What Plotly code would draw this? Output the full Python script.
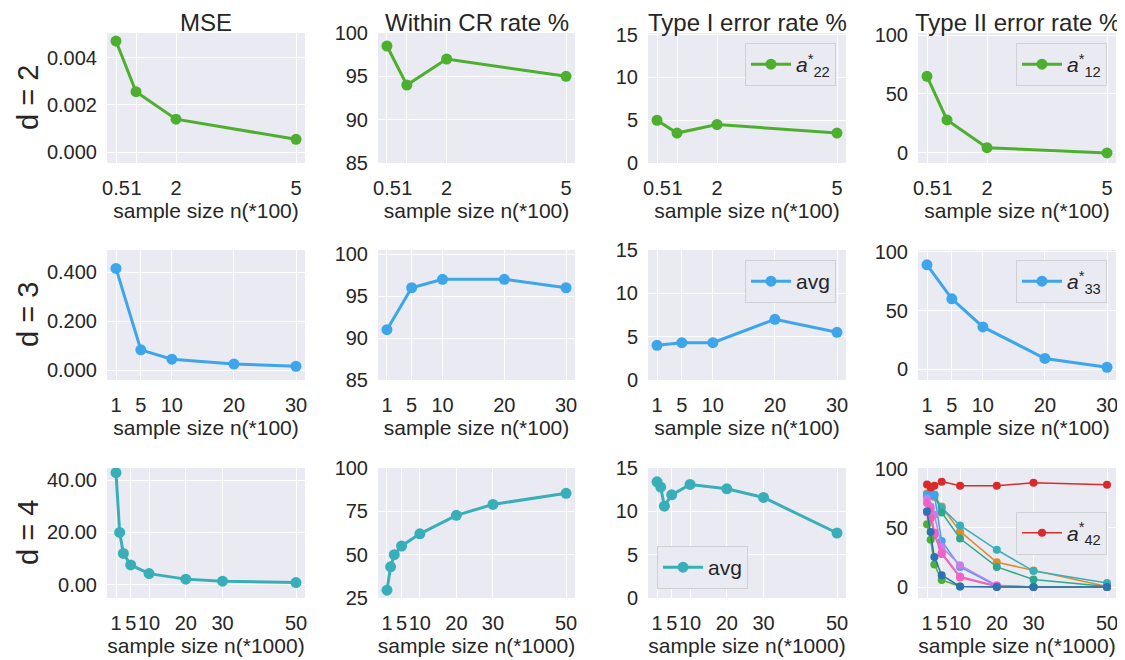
import plotly.graph_objects as go

# ---------------- data ----------------
x_d2 = [0.5, 1, 2, 5]
x_d3 = [1, 5, 10, 20, 30]
x_d4 = [1, 2, 3, 5, 10, 20, 30, 50]
xt_d2 = [0.5, 1, 2, 5]
xt_d2_text = ["0.5", "1", "2", "5"]
xt_d3 = [1, 5, 10, 20, 30]
xt_d4 = [1, 5, 10, 20, 30, 50]

col_titles = ["MSE", "Within CR rate %", "Type I error rate %", "Type II error rate %"]
row_titles = ["d = 2", "d = 3", "d = 4"]
x_titles = ["sample size n(*100)", "sample size n(*100)", "sample size n(*1000)"]

mse_d2 = [0.0047, 0.00256, 0.0014, 0.00055]
cr_d2 = [98.5, 94.0, 97.0, 95.0]
t1_d2 = [5.0, 3.5, 4.5, 3.5]
t2_d2 = [65, 28, 4.5, 0]

mse_d3 = [0.415, 0.083, 0.045, 0.025, 0.016]
cr_d3 = [91, 96, 97, 97, 96]
t1_d3 = [4.0, 4.3, 4.3, 7.0, 5.5]
t2_d3 = [89, 60, 36, 9, 1.5]

mse_d4 = [42.8, 20, 12, 7.6, 4.3, 2.2, 1.4, 0.9]
cr_d4 = [29.5, 43, 50, 55, 62, 72.7, 79, 85.4]
t1_d4 = [13.4, 12.8, 10.6, 11.9, 13.1, 12.6, 11.6, 7.5]

# Type II error per coefficient, d = 4
t2_d4_orange = [79, 79, 76, 68, 47, 21, 14, 0.5]
t2_d4_teal = [78, 78, 78, 67, 52, 31.5, 13.5, 3.5]
t2_d4_greenteal = [78, 78, 78, 63, 41, 17, 6.5, 0.5]
t2_d4_lightblue = [78, 79, 78, 39, 17, 1, 0, 0]
t2_d4_purple = [74.5, 68, 61, 34, 18.5, 1.5, 0, 0]
t2_d4_rose = [63, 58, 44, 28, 8, 0.5, 0, 0]
t2_d4_pink = [71, 66, 46, 29, 9, 1, 0, 0]
t2_d4_green = [53, 40, 19, 6, 0.5, 0, 0, 0]
t2_d4_darkblue = [64, 46.5, 25.5, 10, 0.5, 0, 0, 0]
t2_d4_a42 = [86.5, 84, 85.5, 89, 85.5, 85.5, 88, 86.3]

# ---------------- style ----------------
GREEN = "#4DAF2E"
BLUE = "#3DA5EA"
TEAL = "#38AFB8"
FONT = "Liberation Sans, Arial, sans-serif"
TXT = "#262626"
BG = "#EAEAF2"

# page offset (body margin) compensation
OFF = 8
W, H = 1117, 652

def px(x):
    return (x - OFF) / W

def py(y):
    return 1 - (y - OFF) / H

xdom = [[107, 305], [378, 575], [648, 846], [918, 1116]]
ydom = [[33, 163], [250, 380], [468, 598]]

xranges = [[0.275, 5.225], [-0.45, 31.45], [-1.45, 52.45]]
yranges = [
    [[-0.00045, 0.00504], [85, 100], [0, 15.2], [-8.5, 101.7]],
    [[-0.04, 0.49], [85, 100.5], [0, 15], [-9.4, 101.7]],
    [[-5, 44.6], [25, 100], [0, 15], [-9.2, 100.5]],
]
yticks = [
    [[0, 0.002, 0.004], [85, 90, 95, 100], [0, 5, 10, 15], [0, 50, 100]],
    [[0, 0.2, 0.4], [85, 90, 95, 100], [0, 5, 10, 15], [0, 50, 100]],
    [[0, 20, 40], [25, 50, 75, 100], [0, 5, 10, 15], [0, 50, 100]],
]
yfmt = [[".3f", "", "", ""], [".3f", "", "", ""], [".2f", "", "", ""]]

fig = go.Figure()

def ax_id(r, c):
    n = r * 4 + c + 1
    return ("x" if n == 1 else f"x{n}"), ("y" if n == 1 else f"y{n}")

def add_main(r, c, x, y, color, name=None, legend=None):
    xa, ya = ax_id(r, c)
    fig.add_trace(go.Scatter(
        x=x, y=y, mode="lines+markers", xaxis=xa, yaxis=ya,
        line=dict(color=color, width=3), marker=dict(color=color, size=11),
        name=name or "", showlegend=name is not None,
        legend=legend if legend else "legend",
    ))

rows = [
    (x_d2, [mse_d2, cr_d2, t1_d2, t2_d2], GREEN),
    (x_d3, [mse_d3, cr_d3, t1_d3, t2_d3], BLUE),
]
legend_names = {
    (0, 2): ("<i>a</i><sup>*</sup><sub>22</sub>", "legend"),
    (0, 3): ("<i>a</i><sup>*</sup><sub>12</sub>", "legend2"),
    (1, 2): ("avg", "legend3"),
    (1, 3): ("<i>a</i><sup>*</sup><sub>33</sub>", "legend4"),
    (2, 2): ("avg", "legend5"),
}
for r, (xs, series, colr) in enumerate(rows):
    for c, ys in enumerate(series):
        nm = legend_names.get((r, c))
        add_main(r, c, xs, ys, colr, nm[0] if nm else None, nm[1] if nm else None)

for c, ys in enumerate([mse_d4, cr_d4, t1_d4]):
    nm = legend_names.get((2, c))
    add_main(2, c, x_d4, ys, TEAL, nm[0] if nm else None, nm[1] if nm else None)

multi = [
    (t2_d4_orange, "#E08A2E"),
    (t2_d4_teal, "#3AAFB9"),
    (t2_d4_greenteal, "#2EA88C"),
    (t2_d4_lightblue, "#3EA5EC"),
    (t2_d4_purple, "#C77EEA"),
    (t2_d4_rose, "#EE5FA0"),
    (t2_d4_pink, "#F062C8"),
    (t2_d4_green, "#4DAF2E"),
    (t2_d4_darkblue, "#2A71B5"),
]
xa, ya = ax_id(2, 3)
for ys, colr in multi:
    fig.add_trace(go.Scatter(x=x_d4, y=ys, mode="lines+markers", xaxis=xa, yaxis=ya,
                             line=dict(color=colr, width=1.5), marker=dict(color=colr, size=8),
                             showlegend=False))
fig.add_trace(go.Scatter(x=x_d4, y=t2_d4_a42, mode="lines+markers", xaxis=xa, yaxis=ya,
                         line=dict(color="#D92B2B", width=1.5), marker=dict(color="#D92B2B", size=8),
                         name="<i>a</i><sup>*</sup><sub>42</sub>", legend="legend6"))

layout = dict(
    width=W, height=H, margin=dict(l=0, r=0, t=0, b=0, autoexpand=False),
    paper_bgcolor="white", plot_bgcolor=BG,
    font=dict(family=FONT, color=TXT, size=20),
    annotations=[],
)
xtick_sets = [(xt_d2, xt_d2_text), (xt_d3, [str(v) for v in xt_d3]), (xt_d4, [str(v) for v in xt_d4])]
for r in range(3):
    for c in range(4):
        n = r * 4 + c + 1
        xk = "xaxis" if n == 1 else f"xaxis{n}"
        yk = "yaxis" if n == 1 else f"yaxis{n}"
        xa, ya = ax_id(r, c)
        tv, tt = xtick_sets[r]
        layout[xk] = dict(
            domain=[px(xdom[c][0]), px(xdom[c][1])], anchor=ya, range=xranges[r],
            tickmode="array", tickvals=tv, ticktext=tt, showgrid=True, gridcolor="white",
            gridwidth=1.3, zeroline=False, showline=False, ticks="", ticklabelstandoff=11,
            tickangle=0, automargin=False, tickfont=dict(size=20, color=TXT),
            title=dict(text=x_titles[r], font=dict(size=21, color=TXT), standoff=3),
        )
        yd = dict(
            domain=[py(ydom[r][1]), py(ydom[r][0])], anchor=xa, range=yranges[r][c],
            tickmode="array", tickvals=yticks[r][c], showgrid=True, gridcolor="white",
            gridwidth=1.3, zeroline=False, showline=False, ticks="", ticklabelstandoff=9,
            automargin=False, tickfont=dict(size=20, color=TXT),
        )
        if yfmt[r][c]:
            yd["tickformat"] = yfmt[r][c]
        layout[yk] = yd

for c, t in enumerate(col_titles):
    layout["annotations"].append(dict(
        text=t, x=px((xdom[c][0] + xdom[c][1]) / 2), y=1.0, xref="paper", yref="paper",
        showarrow=False, font=dict(size=24, color=TXT), xanchor="center", yanchor="top",
        borderpad=0))
for r, t in enumerate(row_titles):
    layout["annotations"].append(dict(
        text=t, x=px(28), y=py((ydom[r][0] + ydom[r][1]) / 2), xref="paper", yref="paper",
        showarrow=False, font=dict(size=29, color=TXT), textangle=-90,
        xanchor="center", yanchor="middle"))

leg_style = dict(bgcolor=BG, bordercolor="#CFCFD6", borderwidth=1, itemwidth=40,
                 font=dict(size=21, color=TXT))
layout["legend"] = dict(x=px(836), y=py(43), xanchor="right", yanchor="top", **leg_style)
layout["legend2"] = dict(x=px(1107), y=py(43), xanchor="right", yanchor="top", **leg_style)
layout["legend3"] = dict(x=px(836), y=py(260), xanchor="right", yanchor="top", **leg_style)
layout["legend4"] = dict(x=px(1107), y=py(260), xanchor="right", yanchor="top", **leg_style)
layout["legend5"] = dict(x=px(657), y=py(589), xanchor="left", yanchor="bottom", **leg_style)
layout["legend6"] = dict(x=px(1107), y=py(533), xanchor="right", yanchor="middle", **leg_style)

fig.update_layout(**layout)
fig.write_html("out.html")
